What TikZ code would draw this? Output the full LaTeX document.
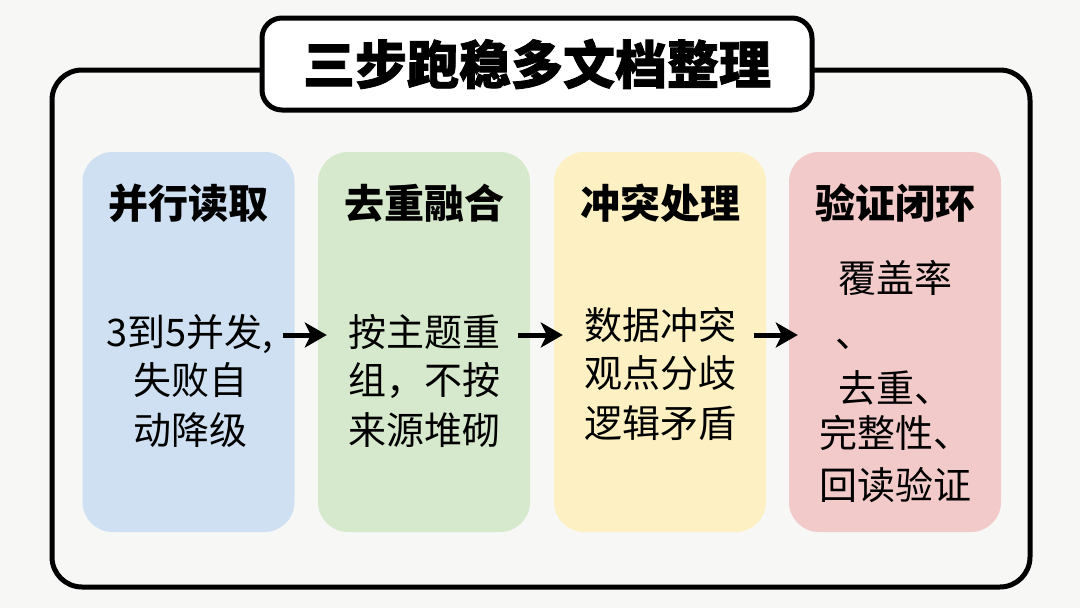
\documentclass[tikz,border=0pt]{standalone}
\usepackage{fontspec}
\setmainfont{Noto Sans CJK SC}
\newfontfamily\heavyfont{Noto Sans CJK SC}[BoldFeatures={FakeBold=1.5}]
\usetikzlibrary{arrows.meta}
\definecolor{bgc}{HTML}{F7F7F5}
\definecolor{cblue}{HTML}{CFE0F2}
\definecolor{cgreen}{HTML}{D6E9CC}
\definecolor{cyellow}{HTML}{FDF0C3}
\definecolor{cpink}{HTML}{F3CACA}
\begin{document}
\begin{tikzpicture}[x=1pt,y=-1pt,
  frame/.style={draw=black,line width=5pt,rounded corners=30pt},
  titlebox/.style={draw=black,fill=white,line width=5pt,rounded corners=20pt,minimum width=550pt,minimum height=92pt,inner sep=0pt,font=\fontsize{52}{60}\selectfont\heavyfont\bfseries},
  card/.style={rounded corners=30pt,minimum width=212pt,minimum height=380pt,inner sep=0pt},
  head/.style={font=\fontsize{40}{48}\selectfont\bfseries,anchor=base,inner sep=0pt},
  body/.style={font=\fontsize{38}{49}\selectfont,anchor=base,inner sep=0pt},
  flow/.style={line width=5pt,-{Stealth[length=22pt,width=25pt,inset=6pt]},shorten <=-12pt,shorten >=-9pt}]
\fill[bgc] (0,0) rectangle (1080,608);
\useasboundingbox (0,0) rectangle (1080,608);
\draw[frame] (52,70) rectangle (1030,587);
\node[titlebox] (title) at (537,64) {三步跑稳多文档整理};
% cards
\node[card,fill=cblue] (c1) at (188.5,342) {};
\node[card,fill=cgreen] (c2) at (424,342) {};
\node[card,fill=cyellow] (c3) at (660,342) {};
\node[card,fill=cpink] (c4) at (895,342) {};
% headers
\node[head] (h1) at (188.5,218) {并行读取};
\node[head] (h2) at (424,218) {去重融合};
\node[head] (h3) at (660,218) {冲突处理};
\node[head] (h4) at (895,218) {验证闭环};
% bodies
\node[body] (a1) at (190,346) {3到5并发,};
\node[body] (a2) at (190,394) {失败自};
\node[body] (a3) at (190,444) {动降级};
\node[body] (b1) at (424,346) {按主题重};
\node[body] (b2) at (424,394) {组，不按};
\node[body] (b3) at (424,444) {来源堆砌};
\node[body] (d1) at (660,339) {数据冲突};
\node[body] (d2) at (660,387) {观点分歧};
\node[body] (d3) at (660,437) {逻辑矛盾};
\node[body] (e1) at (895,292) {覆盖率};
\node[body,anchor=base west] (e2) at (835,347) {、};
\node[body] (e3) at (895,402) {去重、};
\node[body] (e4) at (895,447) {完整性、};
\node[body] (e5) at (895,499) {回读验证};
% arrows
\draw[flow] ([yshift=7pt]c1.east) -- ([yshift=7pt]c2.west);
\draw[flow] ([yshift=7pt]c2.east) -- ([yshift=7pt]c3.west);
\draw[flow] ([yshift=7pt]c3.east) -- ([yshift=7pt]c4.west);
\end{tikzpicture}
\end{document}
